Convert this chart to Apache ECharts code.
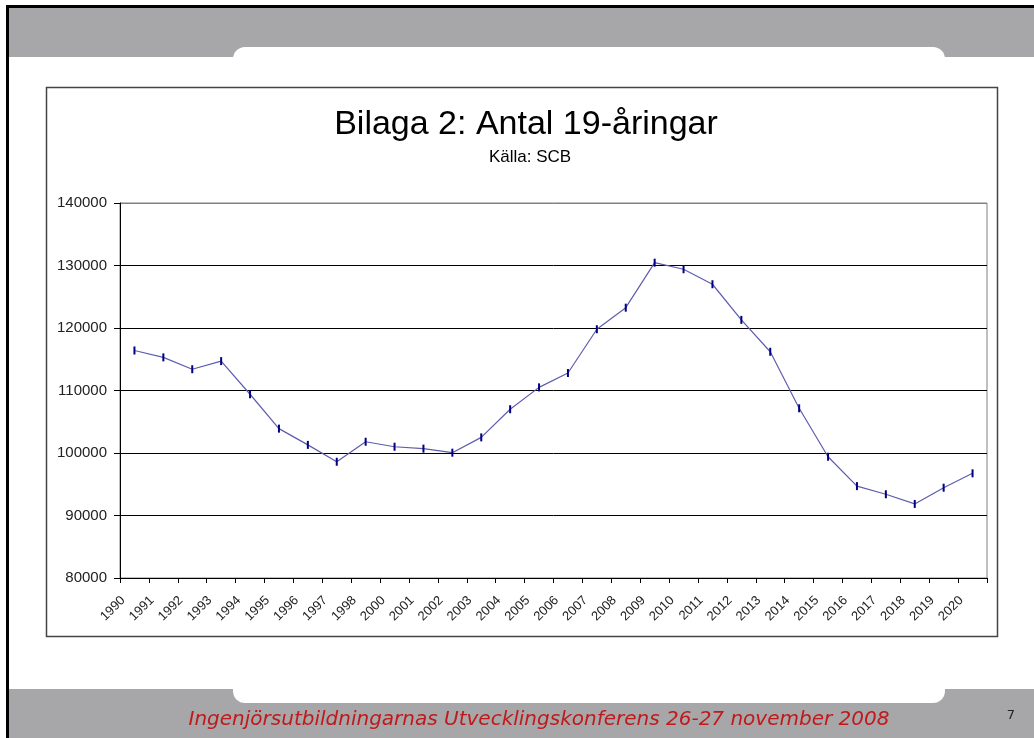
<!DOCTYPE html>
<html>
<head>
<meta charset="utf-8">
<script src="https://cdn.jsdelivr.net/npm/echarts@6/dist/echarts.min.js"></script>
<style>
  html, body { margin: 0; padding: 0; background: #fff; }
  #chart { width: 1034px; height: 738px; }
</style>
</head>
<body>
<div id="chart"></div>
<script>
// år (1999 saknas i originalet)
const years = ['1990', '1991', '1992', '1993', '1994', '1995', '1996', '1997', '1998',
  '2000', '2001', '2002', '2003', '2004', '2005', '2006', '2007', '2008', '2009', '2010',
  '2011', '2012', '2013', '2014', '2015', '2016', '2017', '2018', '2019', '2020']
// antal 19-åringar
const antal = [116400, 115300, 113400, 114700, 109400, 103900, 101300, 98600, 101800,
  101000, 100700, 100050, 102500, 107000, 110500, 112800, 119800, 123250, 130450, 129400,
  127000, 121300, 116200, 107150, 99400, 94700, 93400, 91850, 94450, 96750]
const yMin = 80000
const yMax = 140000
const yStep = 10000

const chart = echarts.init(document.getElementById('chart'))
const grey = '#a7a6a8'

const option = {
  backgroundColor: '#fff',
  animation: false,
  title: [
    {
      text: 'Bilaga 2: Antal 19-åringar',
      left: 521,
      top: 103,
      textAlign: 'center',
      textStyle: { fontFamily: 'Liberation Sans', fontWeight: 'normal', fontSize: 34, color: '#000' }
    },
    {
      text: 'Källa: SCB',
      left: 525,
      top: 144,
      textAlign: 'center',
      textStyle: { fontFamily: 'Liberation Sans', fontWeight: 'normal', fontSize: 17, color: '#000' }
    }
  ],
  graphic: [
    { type: 'rect', z: -10, shape: { x: 9, y: 7, width: 1025, height: 50 }, style: { fill: grey } },
    { type: 'rect', z: -9, shape: { x: 233, y: 47, width: 712, height: 20, r: [12, 12, 0, 0] }, style: { fill: '#fff' } },
    { type: 'rect', z: -10, shape: { x: 9, y: 689, width: 1025, height: 49 }, style: { fill: grey } },
    { type: 'rect', z: -9, shape: { x: 233, y: 680, width: 712, height: 23, r: [0, 0, 12, 12] }, style: { fill: '#fff' } },
    { type: 'rect', z: -8, shape: { x: 6, y: 5, width: 1028, height: 3 }, style: { fill: '#000' } },
    { type: 'rect', z: -8, shape: { x: 6, y: 5, width: 3, height: 733 }, style: { fill: '#000' } },
    { type: 'rect', z: -7, shape: { x: 46.5, y: 87.5, width: 951, height: 549 }, style: { fill: '#fff', stroke: '#444', lineWidth: 1.5 } },
    {
      type: 'text', z: 5, x: 539, y: 720,
      style: {
        text: 'Ingenjörsutbildningarnas Utvecklingskonferens 26-27 november 2008',
        fill: '#c0191b', font: 'italic 20px "DejaVu Sans"', align: 'center', verticalAlign: 'middle'
      }
    },
    {
      type: 'text', z: 5, x: 1011, y: 716,
      style: { text: '7', fill: '#222', font: '13px "DejaVu Sans"', align: 'center', verticalAlign: 'middle' }
    }
  ],
  grid: {
    left: 120,
    right: 47,
    top: 203,
    bottom: 160,
    show: true,
    backgroundColor: 'transparent',
    borderColor: '#808080',
    borderWidth: 1
  },
  xAxis: {
    type: 'category',
    data: years,
    boundaryGap: true,
    axisLine: { lineStyle: { color: '#000', width: 1 } },
    axisTick: { show: true, interval: 0, length: 5, lineStyle: { color: '#000' } },
    axisLabel: {
      interval: 0,
      rotate: 45,
      margin: 9,
      padding: [0, 16, 0, 0],
      fontFamily: 'Liberation Sans',
      fontSize: 13,
      color: '#222'
    },
    splitLine: { show: false }
  },
  yAxis: {
    type: 'value',
    min: yMin,
    max: yMax,
    interval: yStep,
    axisLine: { show: true, lineStyle: { color: '#000', width: 1 } },
    axisTick: { show: true, length: 6, lineStyle: { color: '#000' } },
    axisLabel: {
      margin: 13,
      fontFamily: 'Liberation Sans',
      fontSize: 15,
      color: '#222',
      formatter: (v) => String(v)
    },
    splitLine: {
      lineStyle: { color: ['#000', '#000', '#000', '#000', '#000', '#000', '#808080'], width: 1 }
    }
  },
  series: [
    {
      type: 'line',
      data: antal,
      symbol: 'rect',
      symbolSize: [2, 8],
      lineStyle: { color: '#5e5cb0', width: 1.2 },
      itemStyle: { color: '#000080' }
    }
  ]
}

chart.setOption(option)
</script>
</body>
</html>
